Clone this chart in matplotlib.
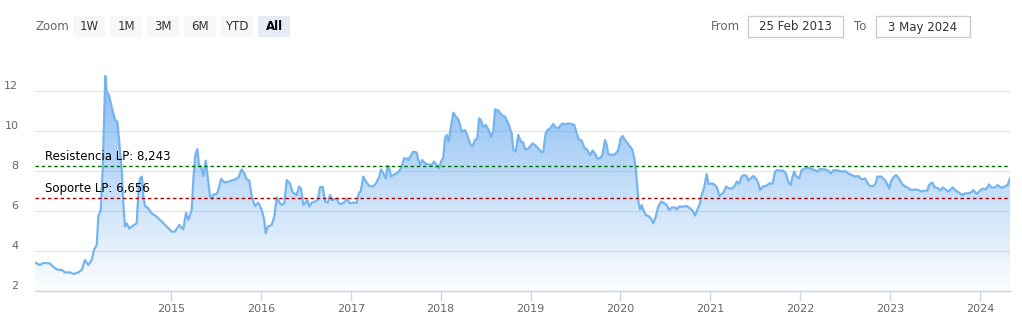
import numpy as np
import matplotlib
matplotlib.use("Agg")
import matplotlib.pyplot as plt
import matplotlib.transforms as mtransforms
from matplotlib.patches import Rectangle, Polygon
from matplotlib.colors import LinearSegmentedColormap

# fecha (año decimal) y cotización
t = [
    2013.487, 2013.543, 2013.580, 2013.654, 2013.691, 2013.729, 2013.784, 2013.821, 2013.877, 2013.913,
    2013.969, 2014.007, 2014.043, 2014.080, 2014.118, 2014.143, 2014.174, 2014.191, 2014.218, 2014.240,
    2014.255, 2014.269, 2014.285, 2014.310, 2014.340, 2014.377, 2014.403, 2014.425, 2014.452, 2014.469,
    2014.488, 2014.507, 2014.536, 2014.563, 2014.588, 2014.618, 2014.641, 2014.655, 2014.677, 2014.692,
    2014.711, 2014.748, 2014.785, 2014.841, 2014.897, 2014.952, 2015.008, 2015.044, 2015.092, 2015.137,
    2015.167, 2015.192, 2015.230, 2015.248, 2015.270, 2015.293, 2015.311, 2015.334, 2015.359, 2015.386,
    2015.408, 2015.434, 2015.453, 2015.471, 2015.508, 2015.526, 2015.556, 2015.601, 2015.637, 2015.675,
    2015.712, 2015.749, 2015.786, 2015.815, 2015.842, 2015.871, 2015.898, 2015.934, 2015.971, 2016.009,
    2016.034, 2016.053, 2016.076, 2016.120, 2016.149, 2016.176, 2016.201, 2016.231, 2016.260, 2016.287,
    2016.324, 2016.349, 2016.379, 2016.398, 2016.424, 2016.446, 2016.472, 2016.491, 2016.516, 2016.538,
    2016.565, 2016.602, 2016.632, 2016.657, 2016.687, 2016.713, 2016.743, 2016.769, 2016.788, 2016.816,
    2016.843, 2016.869, 2016.899, 2016.935, 2016.954, 2016.991, 2017.028, 2017.066, 2017.091, 2017.110,
    2017.139, 2017.169, 2017.206, 2017.244, 2017.280, 2017.317, 2017.336, 2017.362, 2017.388, 2017.410,
    2017.425, 2017.447, 2017.473, 2017.511, 2017.547, 2017.566, 2017.592, 2017.622, 2017.640, 2017.666,
    2017.695, 2017.733, 2017.751, 2017.770, 2017.795, 2017.825, 2017.862, 2017.900, 2017.925, 2017.956,
    2017.981, 2018.003, 2018.029, 2018.048, 2018.067, 2018.089, 2018.111, 2018.140, 2018.170, 2018.200,
    2018.234, 2018.270, 2018.296, 2018.326, 2018.352, 2018.382, 2018.407, 2018.426, 2018.448, 2018.467,
    2018.501, 2018.530, 2018.560, 2018.585, 2018.604, 2018.641, 2018.679, 2018.715, 2018.752, 2018.790,
    2018.808, 2018.834, 2018.863, 2018.893, 2018.919, 2018.938, 2018.974, 2018.993, 2019.019, 2019.049,
    2019.086, 2019.123, 2019.141, 2019.168, 2019.190, 2019.216, 2019.252, 2019.279, 2019.308, 2019.335,
    2019.353, 2019.383, 2019.419, 2019.457, 2019.486, 2019.513, 2019.538, 2019.568, 2019.597, 2019.631,
    2019.661, 2019.691, 2019.716, 2019.742, 2019.772, 2019.798, 2019.828, 2019.847, 2019.864, 2019.902,
    2019.939, 2019.976, 2020.002, 2020.024, 2020.050, 2020.080, 2020.106, 2020.131, 2020.154, 2020.172,
    2020.187, 2020.202, 2020.217, 2020.236, 2020.254, 2020.280, 2020.309, 2020.339, 2020.365, 2020.392,
    2020.420, 2020.451, 2020.476, 2020.514, 2020.543, 2020.570, 2020.606, 2020.625, 2020.651, 2020.699,
    2020.736, 2020.773, 2020.803, 2020.829, 2020.854, 2020.884, 2020.903, 2020.929, 2020.959, 2020.977,
    2021.015, 2021.051, 2021.077, 2021.099, 2021.126, 2021.151, 2021.174, 2021.210, 2021.248, 2021.274,
    2021.293, 2021.318, 2021.348, 2021.374, 2021.404, 2021.422, 2021.448, 2021.477, 2021.515, 2021.533,
    2021.552, 2021.582, 2021.618, 2021.655, 2021.693, 2021.719, 2021.744, 2021.774, 2021.811, 2021.841,
    2021.866, 2021.893, 2021.915, 2021.933, 2021.952, 2021.989, 2022.016, 2022.052, 2022.089, 2022.127,
    2022.164, 2022.189, 2022.219, 2022.275, 2022.311, 2022.338, 2022.375, 2022.423, 2022.460, 2022.497,
    2022.534, 2022.572, 2022.608, 2022.645, 2022.683, 2022.720, 2022.750, 2022.775, 2022.812, 2022.839,
    2022.857, 2022.898, 2022.923, 2022.950, 2022.972, 2022.990, 2023.009, 2023.035, 2023.065, 2023.098,
    2023.128, 2023.165, 2023.195, 2023.220, 2023.246, 2023.276, 2023.313, 2023.350, 2023.387, 2023.413,
    2023.432, 2023.468, 2023.498, 2023.535, 2023.562, 2023.584, 2023.610, 2023.646, 2023.695, 2023.729,
    2023.765, 2023.802, 2023.832, 2023.869, 2023.899, 2023.924, 2023.962, 2023.999, 2024.029, 2024.066,
    2024.099, 2024.129, 2024.166, 2024.196, 2024.229, 2024.251, 2024.285, 2024.307, 2024.333,
]
v = [
    3.42, 3.30, 3.40, 3.38, 3.20, 3.08, 3.05, 2.93, 2.93, 2.85,
    2.93, 3.05, 3.55, 3.30, 3.55, 4.05, 4.30, 5.72, 6.05, 8.05,
    10.55, 12.75, 11.97, 11.80, 11.20, 10.55, 10.47, 9.38, 8.05, 6.38,
    5.22, 5.38, 5.13, 5.22, 5.30, 5.38, 7.22, 7.63, 7.72, 6.72,
    6.25, 6.13, 5.88, 5.72, 5.47, 5.22, 4.97, 4.97, 5.30, 5.08,
    5.92, 5.55, 6.05, 7.55, 8.80, 9.10, 8.30, 8.22, 7.75, 8.52,
    7.72, 6.72, 6.63, 6.83, 6.85, 7.05, 7.60, 7.42, 7.47, 7.52,
    7.58, 7.68, 8.08, 7.88, 7.58, 7.52, 6.72, 6.25, 6.42, 6.05,
    5.63, 4.88, 5.22, 5.30, 5.72, 6.68, 6.47, 6.30, 6.38, 7.55,
    7.38, 6.97, 6.85, 6.80, 7.22, 7.13, 6.30, 6.38, 6.55, 6.22,
    6.42, 6.47, 6.55, 7.18, 7.22, 6.47, 6.42, 6.80, 6.55, 6.58,
    6.63, 6.38, 6.35, 6.47, 6.63, 6.38, 6.42, 6.42, 6.92, 6.97,
    7.72, 7.47, 7.25, 7.22, 7.38, 7.72, 8.08, 7.88, 7.63, 8.25,
    8.22, 7.72, 7.80, 7.88, 8.05, 8.22, 8.63, 8.63, 8.55, 8.75,
    8.97, 8.92, 8.58, 8.30, 8.55, 8.38, 8.33, 8.30, 8.47, 8.30,
    8.13, 8.47, 8.68, 9.63, 9.80, 9.47, 10.13, 10.92, 10.72, 10.55,
    9.97, 10.05, 9.80, 9.38, 9.22, 9.55, 9.63, 10.63, 10.55, 10.22,
    10.30, 10.08, 9.72, 9.97, 11.08, 11.02, 10.80, 10.72, 10.38, 9.88,
    9.05, 8.97, 9.80, 9.47, 9.42, 9.08, 9.13, 9.22, 9.38, 9.30,
    9.13, 8.92, 8.97, 9.88, 10.05, 10.13, 10.35, 10.18, 10.13, 10.30,
    10.38, 10.33, 10.38, 10.35, 10.30, 9.88, 9.58, 9.52, 9.18, 9.05,
    8.80, 9.02, 8.88, 8.63, 8.63, 8.80, 9.55, 9.30, 8.85, 8.80,
    8.83, 9.05, 9.63, 9.75, 9.55, 9.38, 9.22, 9.08, 8.63, 8.05,
    7.22, 6.38, 6.08, 6.30, 6.05, 5.80, 5.75, 5.63, 5.38, 5.72,
    6.22, 6.47, 6.42, 6.30, 6.05, 6.18, 6.18, 6.08, 6.22, 6.22,
    6.25, 6.13, 6.02, 5.77, 6.05, 6.38, 6.80, 7.13, 7.85, 7.35,
    7.38, 7.30, 7.13, 6.75, 6.85, 6.97, 7.22, 7.13, 7.13, 7.30,
    7.47, 7.35, 7.72, 7.80, 7.75, 7.52, 7.63, 7.75, 7.58, 7.38,
    7.05, 7.22, 7.25, 7.38, 7.38, 7.97, 8.05, 8.02, 8.02, 7.88,
    7.47, 7.30, 7.72, 7.97, 7.75, 7.63, 8.05, 8.13, 8.17, 8.10,
    8.05, 7.97, 8.10, 8.08, 8.02, 7.88, 8.05, 8.02, 7.97, 8.00,
    7.88, 7.80, 7.72, 7.75, 7.58, 7.63, 7.38, 7.25, 7.25, 7.38,
    7.72, 7.72, 7.63, 7.50, 7.30, 7.13, 7.47, 7.68, 7.80, 7.63,
    7.38, 7.22, 7.18, 7.08, 7.05, 7.08, 7.05, 6.98, 7.02, 7.02,
    7.30, 7.42, 7.18, 7.13, 7.02, 7.18, 7.10, 6.97, 7.18, 7.02,
    6.92, 6.80, 6.88, 6.88, 6.93, 7.05, 6.85, 7.02, 7.12, 7.08,
    7.33, 7.17, 7.18, 7.30, 7.18, 7.17, 7.25, 7.30, 7.63,
]
years = list(range(2015, 2025))
yticks = [2, 4, 6, 8, 10, 12]
resistencia = 8.243
soporte = 6.656
zoom_buttons = ["1W", "1M", "3M", "6M", "YTD", "All"]
date_from = "25 Feb 2013"
date_to = "3 May 2024"

W, H = 1022, 323
fig = plt.figure(figsize=(W / 100, H / 100), dpi=100)
fig.patch.set_facecolor("white")
ax = fig.add_axes([35 / W, 32 / H, 975 / W, 224 / H])

ymin, ymax = 2, 13.2
ax.set_xlim(t[0], t[-1])
ax.set_ylim(ymin, ymax)

# relleno degradado bajo la curva
cmap = LinearSegmentedColormap.from_list(
    "fade", [(0.0, (0.38, 0.65, 0.94, 0.02)), (1.0, (0.38, 0.65, 0.94, 0.78))]
)
grad = np.linspace(0, 1, 256).reshape(-1, 1)
im = ax.imshow(grad, cmap=cmap, aspect="auto", origin="lower",
               extent=[t[0], t[-1], ymin, ymax], zorder=1, interpolation="bilinear")
poly = Polygon([(t[0], ymin)] + list(zip(t, v)) + [(t[-1], ymin)],
               closed=True, facecolor="none", edgecolor="none")
ax.add_patch(poly)
im.set_clip_path(poly)

ax.plot(t, v, color="#74b5f0", lw=1.6, zorder=3, solid_joinstyle="round")

# soporte / resistencia
ax.axhline(resistencia, color="#007000", lw=1.0, ls=(0, (2.5, 2)), zorder=4)
ax.axhline(soporte, color="#b00000", lw=1.0, ls=(0, (2.5, 2)), zorder=4)
lbl = mtransforms.blended_transform_factory(ax.transAxes, ax.transData)
ax.text(10 / 975, resistencia, "Resistencia LP: " + f"{resistencia:.3f}".replace(".", ","),
        transform=lbl + mtransforms.ScaledTranslation(0, 2 / 72, fig.dpi_scale_trans),
        ha="left", va="bottom", fontsize=8.5, color="black", zorder=5)
ax.text(10 / 975, soporte, "Soporte LP: " + f"{soporte:.3f}".replace(".", ","),
        transform=lbl + mtransforms.ScaledTranslation(0, 2 / 72, fig.dpi_scale_trans),
        ha="left", va="bottom", fontsize=8.5, color="black", zorder=5)

# ejes
for s in ["top", "right", "left"]:
    ax.spines[s].set_visible(False)
ax.spines["bottom"].set_color("#ccd6eb")
ax.spines["bottom"].set_linewidth(1.0)
ax.set_yticks(yticks)
ax.set_yticklabels([str(y) for y in yticks])
ax.set_xticks(years)
ax.set_xticklabels([str(y) for y in years])
ax.grid(axis="y", color="#e6e6e6", lw=1.0, zorder=0)
ax.set_axisbelow(True)
ax.tick_params(axis="y", length=0, pad=12, labelsize=8, labelcolor="#666666")
ax.tick_params(axis="x", length=7, width=1, color="#ccd6eb", pad=2,
               labelsize=8, labelcolor="#666666")
off = mtransforms.ScaledTranslation(0, 6 / 100, fig.dpi_scale_trans)
for lab in ax.get_yticklabels():
    lab.set_transform(lab.get_transform() + off)

# barra de herramientas (zoom / rango de fechas)
def fx(x):
    return x / W

def fy(y):
    return 1 - y / H

fig.text(fx(35), fy(27), "Zoom", ha="left", va="center", fontsize=8.5, color="#666666")
bx = 73
for name in zoom_buttons:
    sel = name == "All"
    fig.patches.append(Rectangle((fx(bx), fy(37)), 32 / W, 21 / H, transform=fig.transFigure,
                                 facecolor="#e6ebf5" if sel else "#f7f7f7", edgecolor="none"))
    fig.text(fx(bx + 16), fy(27), name, ha="center", va="center", fontsize=8.5,
             color="black" if sel else "#333333", fontweight="bold" if sel else "normal")
    bx += 37

fig.text(fx(711), fy(27), "From", ha="left", va="center", fontsize=8.5, color="#666666")
fig.text(fx(854), fy(27), "To", ha="left", va="center", fontsize=8.5, color="#666666")
for x0, x1, txt in [(748, 843, date_from), (876, 970, date_to)]:
    fig.patches.append(Rectangle((fx(x0), fy(37)), (x1 - x0) / W, 21 / H, transform=fig.transFigure,
                                 facecolor="white", edgecolor="#cccccc", lw=1.0))
    fig.text(fx((x0 + x1) / 2), fy(27), txt, ha="center", va="center", fontsize=8.5, color="#333333")

fig.savefig("out.png", dpi=100)
